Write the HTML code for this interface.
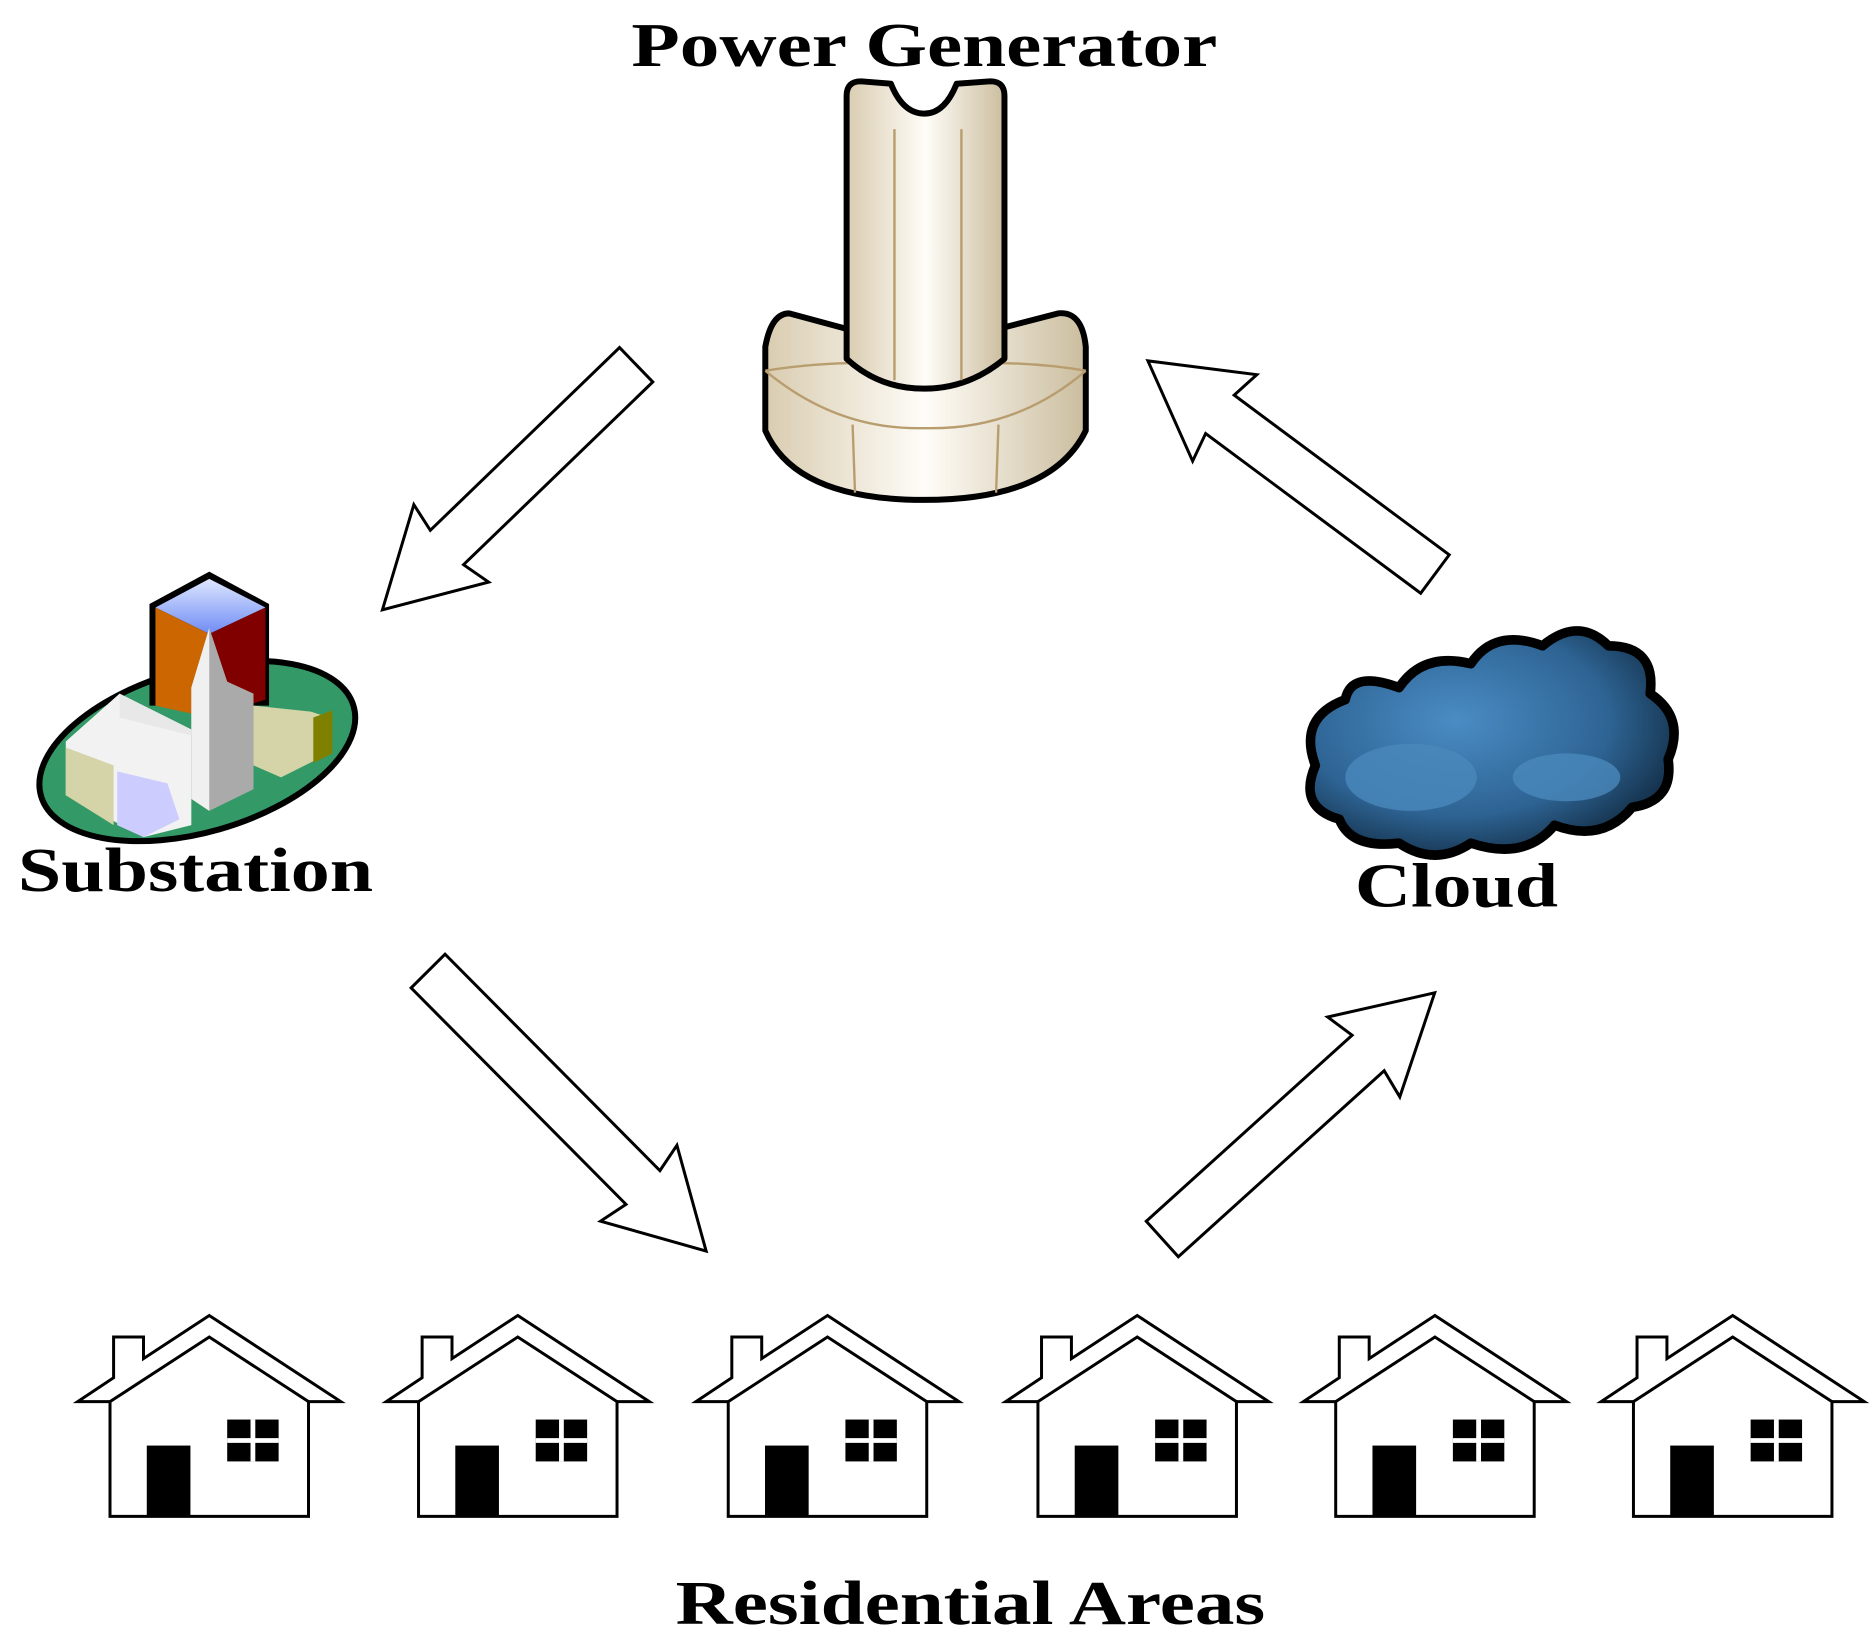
<!DOCTYPE html>
<html><head><style>html,body{margin:0;padding:0;background:#fff}svg{display:block}</style></head>
<body>
<svg width="1875" height="1642" viewBox="0 0 1568 1373" preserveAspectRatio="none" xmlns="http://www.w3.org/2000/svg">
<defs>
<linearGradient id="col" x1="0" x2="1"><stop offset="0" stop-color="#d9ccb0"/><stop offset="0.5" stop-color="#fffdf8"/><stop offset="1" stop-color="#cbbd9e"/></linearGradient>
<radialGradient id="cl" cx="0.4" cy="0.4" r="0.7"><stop offset="0" stop-color="#4a8cc4"/><stop offset="0.6" stop-color="#2e6494"/><stop offset="1" stop-color="#0e2438"/></radialGradient>
<linearGradient id="top" x1="0" y1="0" x2="0" y2="1"><stop offset="0" stop-color="#dde6ff"/><stop offset="1" stop-color="#6f8cf5"/></linearGradient>
<g id="house" stroke="#000" stroke-width="2.5" fill="#fff">
<polygon points="175,1100 285,1172 258,1172 258,1268 92,1268 92,1172 65,1172 95,1152 95,1118 120,1118 120,1136"/>
<polyline points="92,1172 175,1118 258,1172" fill="none"/>
<rect x="124" y="1210" width="34" height="56" fill="#000"/>
<rect x="190" y="1187" width="43" height="35" fill="#000" stroke="none"/>
<line x1="211.5" y1="1187" x2="211.5" y2="1222" stroke="#fff" stroke-width="4"/>
<line x1="190" y1="1204.5" x2="233" y2="1204.5" stroke="#fff" stroke-width="4"/>
</g>
</defs>

<g font-family="'Liberation Serif',serif" font-weight="bold" font-size="52" fill="#000">
<text x="528" y="55" textLength="490" lengthAdjust="spacingAndGlyphs">Power Generator</text>
<text x="15" y="745" textLength="297" lengthAdjust="spacingAndGlyphs">Substation</text>
<text x="1133" y="758" textLength="170" lengthAdjust="spacingAndGlyphs">Cloud</text>
<text x="565" y="1358" textLength="493" lengthAdjust="spacingAndGlyphs">Residential Areas</text>
</g>

<!-- generator -->
<g stroke="#000" stroke-linejoin="round">
<path d="M640,290 Q645,262 660,262 L708,275 L835,275 L885,262 Q905,260 908,290 L908,360 Q880,418 773,418 Q665,418 640,360 Z" fill="url(#col)" stroke-width="5"/>
<path d="M640,310 Q700,300 773,305 Q850,300 908,310 M640,310 Q700,360 773,358 Q850,360 908,310" fill="none" stroke="#b89d6f" stroke-width="2"/>
<line x1="713" y1="355" x2="715" y2="412" stroke="#b89d6f" stroke-width="2"/>
<line x1="835" y1="355" x2="833" y2="412" stroke="#b89d6f" stroke-width="2"/>
<path d="M708,80 Q708,68 720,68 L745,70 Q755,95 773,95 Q790,95 800,70 L828,68 Q840,68 840,80 L840,300 Q810,325 773,325 Q735,325 708,300 Z" fill="url(#col)" stroke-width="5"/>
<line x1="748" y1="108" x2="748" y2="318" stroke="#b89d6f" stroke-width="2"/>
<line x1="804" y1="108" x2="804" y2="318" stroke="#b89d6f" stroke-width="2"/>
</g>

<!-- substation -->
<g>
<ellipse cx="165" cy="628" rx="136" ry="68" transform="rotate(-16 165 628)" fill="#339966" stroke="#000" stroke-width="5"/>
<polygon points="125,505 175,478 225,505 225,590 125,590" fill="#000"/>
<polygon points="130,508 175,484 222,508 175,530" fill="url(#top)"/>
<polygon points="130,508 175,530 175,600 130,590" fill="#cc6600"/>
<polygon points="175,530 222,508 222,585 175,600" fill="#800000"/>
<polygon points="55,620 100,580 160,610 160,690 120,700 55,665" fill="#f2f2f2"/>
<polygon points="55,625 95,640 95,690 55,665" fill="#d4d4a8"/>
<polygon points="98,645 140,655 150,685 120,700 98,690" fill="#ccccff"/>
<polygon points="100,580 160,610 160,615 100,600" fill="#e8e8e8"/>
<polygon points="175,525 190,570 212,580 212,660 175,678 160,668 160,575" fill="#aaaaaa"/>
<polygon points="175,525 160,575 160,668 175,678" fill="#f0f0f0"/>
<polygon points="212,590 260,595 275,600 275,630 235,650 212,640" fill="#d4d4a8"/>
<polygon points="262,600 278,594 278,630 262,638" fill="#808000"/>
</g>

<!-- cloud -->
<path d="M1100,640 Q1085,600 1125,585 Q1130,560 1170,575 Q1190,545 1230,555 Q1250,525 1290,540 Q1320,515 1345,540 Q1385,540 1380,580 Q1410,600 1395,635 Q1400,670 1365,675 Q1340,705 1300,690 Q1275,720 1230,705 Q1200,725 1170,705 Q1130,710 1120,685 Q1085,675 1100,640 Z" fill="url(#cl)" stroke="#000" stroke-width="8" stroke-linejoin="round"/>
<ellipse cx="1180" cy="650" rx="55" ry="28" fill="#4a88bb" opacity="0.8"/>
<ellipse cx="1310" cy="650" rx="45" ry="20" fill="#4a88bb" opacity="0.8"/>

<!-- arrows -->
<g fill="#fff" stroke="#000" stroke-width="2.5" stroke-linejoin="miter">
<g transform="translate(532,305) rotate(136)"><polygon points="0,-20 0,20 220,20 215,45 295,0 215,-45 220,-20"/></g>
<g transform="translate(1200,480) rotate(216.6)"><polygon points="0,-20 0,20 224,20 219,45 299,0 219,-45 224,-20"/></g>
<g transform="translate(358,812) rotate(45.2)"><polygon points="0,-20 0,20 255,20 250,45 330,0 250,-45 255,-20"/></g>
<g transform="translate(972,1036) rotate(-42.1)"><polygon points="0,-20 0,20 232,20 227,45 307,0 227,-45 232,-20"/></g>
</g>

<!-- houses -->
<use href="#house"/>
<use href="#house" x="258"/>
<use href="#house" x="517"/>
<use href="#house" x="776"/>
<use href="#house" x="1025"/>
<use href="#house" x="1274"/>
</svg>
</body></html>
